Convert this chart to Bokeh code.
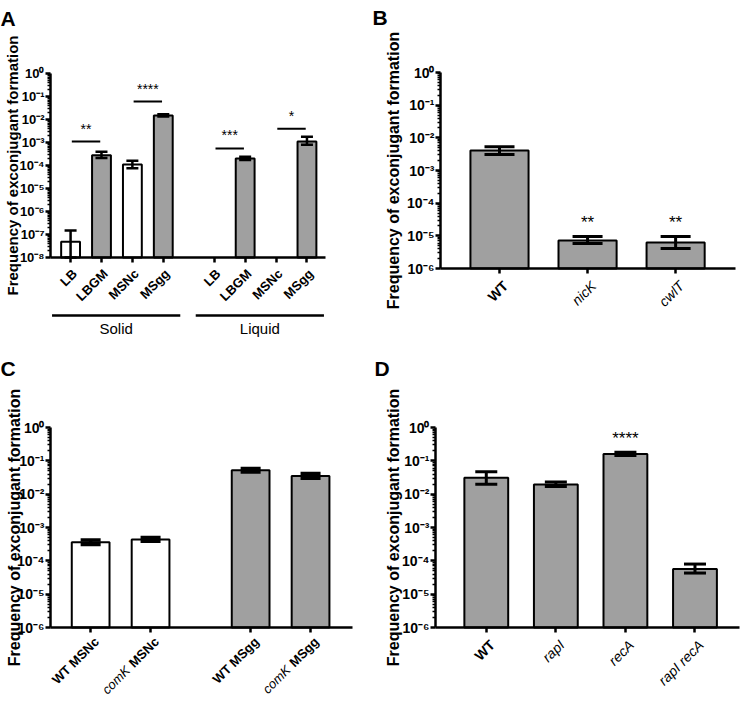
import math
from bokeh.plotting import figure
from bokeh.models import Range1d, FixedTicker, Whisker, TeeHead, ColumnDataSource, Label
from bokeh.layouts import column, row
from bokeh.embed import file_html
from bokeh.resources import INLINE
from bokeh.core.properties import value

FONT = "Liberation Sans"
GRAY = "#a0a0a0"
WHITE = "#ffffff"
YTITLE = "Frequency of exconjugant formation"
SUP = str.maketrans("0123456789-", "⁰¹²³⁴⁵⁶⁷⁸⁹⁻")
NAN = float("nan")

# ---------------- Panel A data ----------------
a_media = ["LB", "LBGM", "MSNc", "MSgg"]
a_conditions = ["Solid", "Liquid"]
a_solid_mean = [4.8e-8, 2.8e-4, 1.1e-4, 1.5e-2]
a_solid_upper = [1.5e-7, 4.0e-4, 1.6e-4, 1.7e-2]
a_solid_lower = [1.0e-8, 2.1e-4, 7.5e-5, 1.35e-2]
a_solid_fill = [WHITE, GRAY, WHITE, GRAY]
a_liquid_mean = [NAN, 2.0e-4, NAN, 1.1e-3]
a_liquid_upper = [NAN, 2.4e-4, NAN, 1.8e-3]
a_liquid_lower = [NAN, 1.75e-4, NAN, 8.0e-4]
a_liquid_fill = [GRAY, GRAY, GRAY, GRAY]
a_sig_condition = ["Solid", "Solid", "Liquid", "Liquid"]
a_sig_from = [0, 2, 0, 2]
a_sig_to = [1, 3, 1, 3]
a_sig_level = [1.1e-3, 6.0e-2, 5.5e-4, 4.0e-3]
a_sig_text = ["**", "****", "***", "*"]

# ---------------- Panel B data ----------------
b_strains = ["WT", "nicK", "cwlT"]
b_style = ["bold", "italic", "italic"]
b_mean = [4.1e-3, 7.2e-6, 6.3e-6]
b_upper = [5.3e-3, 9.5e-6, 9.5e-6]
b_lower = [3.1e-3, 5.8e-6, 4.1e-6]
b_sig = ["", "**", "**"]

# ---------------- Panel C data ----------------
c_strain = ["WT", "comK", "WT", "comK"]
c_strain_style = ["bold", "italic", "bold", "italic"]
c_medium = ["MSNc", "MSNc", "MSgg", "MSgg"]
c_mean = [3.6e-4, 4.4e-4, 5.2e-2, 3.5e-2]
c_upper = [4.2e-4, 5.0e-4, 5.9e-2, 4.2e-2]
c_lower = [3.1e-4, 3.9e-4, 4.6e-2, 3.0e-2]
c_fill = [WHITE, WHITE, GRAY, GRAY]

# ---------------- Panel D data ----------------
d_strains = ["WT", "rapI", "recA", "rapI recA"]
d_style = ["bold", "italic", "italic", "italic"]
d_mean = [3.1e-2, 1.95e-2, 1.6e-1, 5.7e-5]
d_upper = [4.7e-2, 2.3e-2, 1.8e-1, 8.0e-5]
d_lower = [2.0e-2, 1.7e-2, 1.45e-1, 4.3e-5]
d_sig = ["", "", "****", ""]

# approximate Arial-bold advance widths (per 1000 em) for label composition
BOLD_W = {"M": 833, "S": 667, "N": 722, "c": 556, "g": 611, " ": 278}


def text_width(s, size):
    return sum(BOLD_W.get(ch, 600) for ch in s) * size / 1000.0


class Panel:
    """One figure whose frame covers the whole canvas; axes are pinned inside it."""

    def __init__(self, W, H, ax_left, ax_right, ax_top, ax_bottom, xr, ymin_exp,
                 tick_size):
        self.xr = xr
        self.ymin_exp = ymin_exp
        self.ax_bottom = ax_bottom
        self.upp = (xr[1] - xr[0]) / float(ax_right - ax_left)
        self.dpp = (0.0 - ymin_exp) / float(ax_bottom - ax_top)
        self.x0 = xr[0] - ax_left * self.upp
        x1 = xr[1] + (W - ax_right) * self.upp
        self.top_exp = ax_top * self.dpp
        bot_exp = ymin_exp - (H - ax_bottom) * self.dpp
        p = figure(width=W, height=H, x_range=Range1d(self.x0, x1),
                   y_range=Range1d(10.0 ** bot_exp, 10.0 ** self.top_exp),
                   y_axis_type="log", output_backend="svg",
                   toolbar_location=None, min_border=0, min_border_left=0,
                   min_border_right=0, min_border_top=0, min_border_bottom=0)
        p.title.visible = False
        p.outline_line_color = None
        p.xgrid.visible = False
        p.ygrid.visible = False
        p.background_fill_color = "white"
        p.border_fill_color = "white"
        exps = list(range(ymin_exp, 1))
        majors = [10.0 ** e for e in exps]
        minors = [m * 10.0 ** e for e in exps[:-1] for m in range(2, 10)]
        ya = p.yaxis[0]
        ya.fixed_location = xr[0]
        ya.bounds = (10.0 ** ymin_exp, 1.0)
        ya.ticker = FixedTicker(ticks=majors, minor_ticks=minors)
        ya.major_label_overrides = {10.0 ** e: "10" + str(e).translate(SUP) for e in exps}
        ya.axis_line_width = 2.5
        ya.major_tick_line_width = 2.5
        ya.minor_tick_line_width = 1.5
        ya.major_tick_out = 5
        ya.major_tick_in = 0
        ya.minor_tick_out = 3
        ya.minor_tick_in = 0
        ya.major_label_text_font = FONT
        ya.major_label_text_font_style = "bold"
        ya.major_label_text_font_size = tick_size
        ya.major_label_text_color = "black"
        ya.major_label_standoff = 1
        self.p = p

    def fx(self, px):
        return self.x0 + px * self.upp

    def fy(self, py):
        return 10.0 ** (self.top_exp - py * self.dpp)

    def xaxis(self, positions):
        xa = self.p.xaxis[0]
        xa.fixed_location = 10.0 ** self.ymin_exp
        xa.bounds = self.xr
        xa.ticker = FixedTicker(ticks=list(positions), minor_ticks=[])
        xa.major_label_overrides = {float(x): "" for x in positions}
        xa.major_label_text_font_size = "1px"
        xa.axis_line_width = 2.5
        xa.major_tick_line_width = 2.5
        xa.major_tick_out = 5
        xa.major_tick_in = 0
        xa.minor_tick_line_color = None
        xa.major_label_standoff = 0

    def ytitle(self, px, size):
        self.p.text(x=[self.fx(px)], y=[10.0 ** (self.ymin_exp / 2.0)],
                    text=[YTITLE], angle=90, angle_units="deg",
                    text_align="center", text_baseline="middle",
                    text_font=value(FONT), text_font_style=value("bold"),
                    text_font_size=value(size), text_color="black")

    def letter(self, text, px, py):
        self.p.text(x=[self.fx(px)], y=[self.fy(py)], text=[text],
                    text_align="left", text_baseline="alphabetic",
                    text_font=value(FONT), text_font_style=value("bold"),
                    text_font_size=value("21px"), text_color="black")

    def bars(self, xs, mean, upper, lower, fills, width, cap, err_w):
        keep = [i for i in range(len(xs)) if not math.isnan(mean[i])]
        src = ColumnDataSource(dict(
            x=[xs[i] for i in keep], top=[mean[i] for i in keep],
            upper=[upper[i] for i in keep], lower=[lower[i] for i in keep],
            fill=[fills[i] for i in keep]))
        self.p.vbar(x="x", top="top", bottom=10.0 ** self.ymin_exp, width=width,
                    source=src, fill_color="fill", line_color="black",
                    line_width=2)
        w = Whisker(source=src, base="x", upper="upper", lower="lower",
                    dimension="height", line_width=err_w, line_color="black",
                    level="annotation",
                    upper_head=TeeHead(size=cap, line_width=err_w, line_color="black"),
                    lower_head=TeeHead(size=cap, line_width=err_w, line_color="black"))
        self.p.add_layout(w)

    def xlabel(self, x, down, text, style, size, xoff):
        self.p.text(x=[x], y=[self.fy(self.ax_bottom + down)], text=[text],
                    angle=45, angle_units="deg", text_align="right",
                    text_baseline="middle", x_offset=xoff,
                    text_font=value(FONT), text_font_style=value(style),
                    text_font_size=value(size), text_color="black")

    def star(self, x, y, text, size, up):
        self.p.add_layout(Label(x=x, y=y, y_offset=up, text=text,
                                text_align="center", text_baseline="alphabetic",
                                text_font=FONT, text_font_style="normal",
                                text_font_size=size, text_color="black"))


# ================= Panel A =================
a_gap = 1.65
a_pos = {"Solid": [float(i) for i in range(len(a_media))],
         "Liquid": [len(a_media) - 1 + a_gap + i for i in range(len(a_media))]}
A = Panel(367, 350, 50, 325, 73, 257, (-0.65, 8.25), -8, "13px")
A.xaxis(a_pos["Solid"] + a_pos["Liquid"])
A.bars(a_pos["Solid"], a_solid_mean, a_solid_upper, a_solid_lower,
       a_solid_fill, 0.61, 12, 2.5)
A.bars(a_pos["Liquid"], a_liquid_mean, a_liquid_upper, a_liquid_lower,
       a_liquid_fill, 0.61, 12, 2.5)
for cond, i0, i1, lvl, txt in zip(a_sig_condition, a_sig_from, a_sig_to,
                                   a_sig_level, a_sig_text):
    x0 = a_pos[cond][i0] + 0.04
    x1 = a_pos[cond][i1] - 0.04
    A.p.segment(x0=[x0], x1=[x1], y0=[lvl], y1=[lvl], line_color="black",
                line_width=2)
    A.star((x0 + x1) / 2, lvl, txt, "14px", 13)
for cond in a_conditions:
    for x, m in zip(a_pos[cond], a_media):
        A.xlabel(x, 14, m, "bold", "13px", 4)
    xs0 = a_pos[cond][0] - 0.6
    xs1 = a_pos[cond][-1] + 0.55
    A.p.segment(x0=[xs0], x1=[xs1], y0=[A.fy(315)], y1=[A.fy(315)],
                line_color="black", line_width=2.5)
    A.p.text(x=[(xs0 + xs1) / 2], y=[A.fy(328)], text=[cond],
             text_align="center", text_baseline="middle",
             text_font=value(FONT), text_font_size=value("15px"),
             text_color="black")
A.ytitle(12, "15px")
A.letter("A", 0, 18)

# ================= Panel B =================
b_pos = [float(i) for i in range(len(b_strains))]
B = Panel(374, 350, 73, 368, 72, 268, (-0.67, 2.68), -6, "14px")
B.xaxis(b_pos)
B.bars(b_pos, b_mean, b_upper, b_lower, [GRAY] * 3, 0.66, 30, 3)
for x, s, up in zip(b_pos, b_sig, b_upper):
    if s:
        B.star(x, up, s, "17px", 14)
for x, s, st in zip(b_pos, b_strains, b_style):
    B.xlabel(x, 15, s, st, "14px", 6)
B.ytitle(26, "16px")
B.letter("B", 5, 17)

# ================= Panel C =================
c_gap = 1.67
c_pos = [0.0, 1.0, 1.0 + c_gap, 2.0 + c_gap]
C = Panel(367, 347, 50, 352, 77, 277, (-0.67, 4.37), -6, "14px")
C.xaxis(c_pos)
C.bars(c_pos, c_mean, c_upper, c_lower, c_fill, 0.63, 20, 3.5)
for x, s, st, m in zip(c_pos, c_strain, c_strain_style, c_medium):
    if st == "bold":
        C.xlabel(x, 12, s + " " + m, "bold", "13px", 6)
    else:
        C.xlabel(x, 12, m, "bold", "13px", 6)
        shift = (text_width(" " + m, 13) + 1) * math.cos(math.pi / 4)
        C.xlabel(x - shift * C.upp, 12 + shift, s, st, "13px", 6)
C.ytitle(14, "16px")
C.letter("C", 0, 18)

# ================= Panel D =================
d_pos = [float(i) for i in range(len(d_strains))]
D = Panel(374, 347, 68, 372, 77, 277, (-0.73, 3.64), -6, "14px")
D.xaxis(d_pos)
D.bars(d_pos, d_mean, d_upper, d_lower, [GRAY] * 4, 0.63, 22, 3)
for x, s, up in zip(d_pos, d_sig, d_upper):
    if s:
        D.star(x, up, s, "17px", 14)
for x, s, st in zip(d_pos, d_strains, d_style):
    D.xlabel(x, 15, s, st, "14px", 6)
D.ytitle(26, "16px")
D.letter("D", 7, 18)

layout = column(row(A.p, B.p), row(C.p, D.p))
open("out.html", "w").write(file_html(layout, INLINE))
